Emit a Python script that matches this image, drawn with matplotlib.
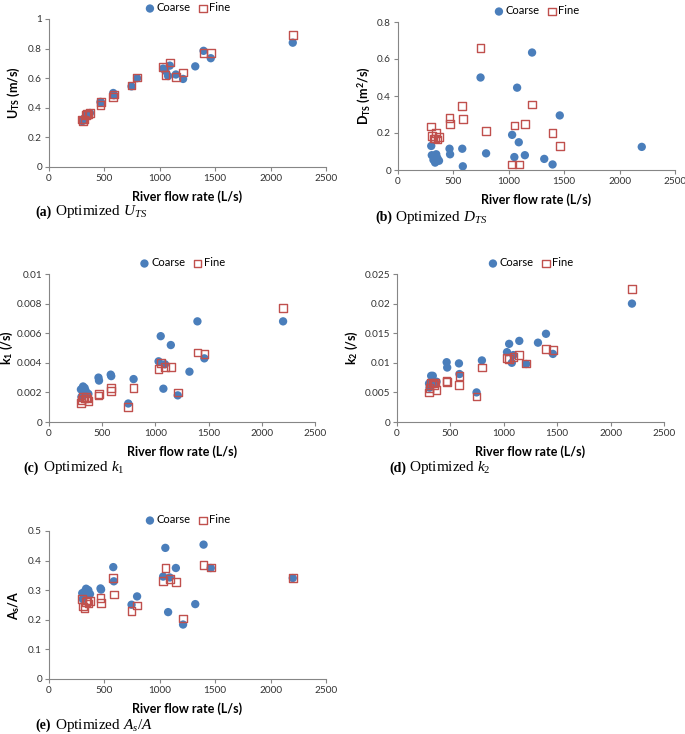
import numpy as np
import matplotlib
matplotlib.use('Agg')
import matplotlib.pyplot as plt

nan = np.nan

# river flow rate (L/s), shared by every panel
flow = [300, 305, 320, 335, 345, 355, 370, 465, 470, 580, 585, 745, 795,
        1030, 1050, 1075, 1090, 1145, 1210, 1320, 1395, 1460, 2200]

uts_coarse = [0.31, 0.315, 0.33, 0.35, 0.35, 0.36, 0.365, 0.44, 0.435, 0.50, 0.485, 0.545, 0.60,
              0.665, 0.65, 0.615, 0.685, 0.625, 0.595, 0.68, 0.785, 0.735, 0.84]
uts_fine = [0.32, 0.31, 0.32, 0.35, 0.36, 0.355, 0.365, 0.42, 0.44, 0.475, 0.49, 0.55, 0.605,
            0.675, 0.62, nan, 0.705, 0.608, 0.638, nan, 0.77, 0.77, 0.89]

dts_coarse = [0.13, 0.08, 0.055, 0.04, 0.085, 0.065, 0.05, 0.115, 0.085, 0.115, 0.02, 0.50, 0.09,
              0.19, 0.07, 0.445, 0.15, 0.08, 0.635, 0.06, 0.03, 0.295, 0.125]
dts_fine = [0.235, 0.185, 0.17, 0.17, 0.20, 0.165, 0.18, 0.28, 0.25, 0.345, 0.275, 0.66, 0.21,
            0.03, 0.24, nan, 0.03, 0.25, 0.355, nan, 0.20, 0.13, nan]

k1_coarse = [0.0022, 0.0017, 0.0024, 0.0023, 0.0021, 0.0019, 0.0019, 0.0030, 0.0028, 0.0032, 0.0031,
             0.00125, 0.0029, 0.0041, 0.0058, 0.00225, 0.0039, 0.0052, 0.0018, 0.0034, 0.0068, 0.0043, 0.0068]
k1_fine = [0.0013, 0.0015, 0.0017, 0.0016, 0.0017, 0.0016, 0.0014, 0.0018, 0.0019, 0.0023, 0.0021,
           0.0010, 0.0023, 0.0036, 0.0040, nan, 0.0037, 0.0037, 0.0020, nan, 0.0047, 0.0046, 0.0077]

k2_coarse = [0.0065, 0.0058, 0.0078, 0.0078, 0.0066, 0.0067, 0.0068, 0.0101, 0.0092, 0.0099, 0.0081,
             0.0050, 0.0104, 0.0118, 0.0132, 0.0100, 0.0113, 0.0137, 0.0098, 0.0134, 0.0149, 0.0115, 0.0200]
k2_fine = [0.0050, 0.0057, 0.0066, 0.0065, 0.0062, 0.0067, 0.0054, 0.0069, 0.0068, 0.0063, 0.0078,
           0.0043, 0.0092, 0.0108, 0.0106, nan, 0.0110, 0.0113, 0.0099, nan, 0.0123, 0.0122, 0.0225]

as_coarse = [0.29, 0.27, 0.295, 0.305, 0.29, 0.30, 0.287, 0.306, 0.302, 0.378, 0.33, 0.251, 0.279,
             0.346, 0.443, 0.226, 0.343, 0.375, 0.184, 0.253, 0.454, 0.375, 0.341]
as_fine = [0.27, 0.245, 0.24, 0.26, 0.265, 0.255, 0.263, 0.273, 0.256, 0.341, 0.285, 0.229, 0.248,
           0.332, 0.375, nan, 0.338, 0.328, 0.204, nan, 0.386, 0.377, 0.341]

plt.rcParams['font.family'] = ['Lato', 'DejaVu Sans']
plt.rcParams['mathtext.fontset'] = 'custom'
plt.rcParams['mathtext.rm'] = 'Liberation Serif'
plt.rcParams['mathtext.it'] = 'Liberation Serif:italic'
plt.rcParams['mathtext.bf'] = 'Lato:bold'

BLUE = '#4a7ebb'
RED = '#c0504d'
GREY = '#868686'

W, H = 685, 734
fig = plt.figure(figsize=(W / 100, H / 100), dpi=100)

# panel boxes in pixels: left, right, top, bottom; caption x, y in pixels
panels = [
    dict(box=(49, 326, 19, 167), yc=uts_coarse, yf=uts_fine, ymax=1.0, ystep=0.2, lpad=4,
         ylabel=r'U$_\mathbf{TS}$ (m/s)', tag='(a)', cap=r'Optimized $U_{TS}$', cap_xy=(35, 212)),
    dict(box=(398, 675, 22, 170), yc=dts_coarse, yf=dts_fine, ymax=0.8, ystep=0.2, lpad=4,
         ylabel=r'D$_\mathbf{TS}$ (m$^\mathbf{2}$/s)', tag='(b)', cap=r'Optimized $D_{TS}$', cap_xy=(375, 217)),
    dict(box=(49, 315, 274, 422), yc=k1_coarse, yf=k1_fine, ymax=0.01, ystep=0.002, lpad=1,
         ylabel=r'k$_\mathbf{1}$ (/s)', tag='(c)', cap=r'Optimized $k_1$', cap_xy=(23, 468)),
    dict(box=(397, 664, 274, 422), yc=k2_coarse, yf=k2_fine, ymax=0.025, ystep=0.005, lpad=3,
         ylabel=r'k$_\mathbf{2}$ (/s)', tag='(d)', cap=r'Optimized $k_2$', cap_xy=(389, 468)),
    dict(box=(49, 326, 531, 679), yc=as_coarse, yf=as_fine, ymax=0.5, ystep=0.1, lpad=4,
         ylabel=r'A$_\mathbf{s}$/A', tag='(e)', cap=r'Optimized $A_s/A$', cap_xy=(35, 725)),
]

for p in panels:
    l, r, t, b = p['box']
    ax = fig.add_axes([l / W, 1 - b / H, (r - l) / W, (b - t) / H])
    ax.scatter(flow, p['yc'], s=36, color=BLUE, edgecolors='none', label='Coarse', zorder=2)
    ax.scatter(flow, p['yf'], s=30, marker='s', facecolors='none', edgecolors=RED,
               linewidths=1.0, label='Fine', zorder=3)
    ax.set_xlim(0, 2500)
    ax.set_ylim(0, p['ymax'])
    ax.set_xticks(np.arange(0, 2501, 500))
    yt = np.arange(0, p['ymax'] + p['ystep'] / 2, p['ystep'])
    ax.set_yticks(yt)
    ax.set_yticklabels([('{:.3f}'.format(v).rstrip('0').rstrip('.') if v else '0') for v in yt])
    for s in ['top', 'right']:
        ax.spines[s].set_visible(False)
    for s in ['left', 'bottom']:
        ax.spines[s].set_color(GREY)
        ax.spines[s].set_linewidth(0.8)
    ax.tick_params(colors=GREY, labelcolor='#333333', labelsize=7.2, length=3, width=0.8, pad=2)
    ax.set_xlabel('River flow rate (L/s)', fontsize=9, fontweight='bold', labelpad=5)
    ax.set_ylabel(p['ylabel'], fontsize=9, fontweight='bold', labelpad=p['lpad'])
    ax.legend(loc='lower center', bbox_to_anchor=(0.5, 1.0), ncol=2, frameon=False,
              fontsize=8, handletextpad=0.1, columnspacing=0.6, borderaxespad=0.1,
              handlelength=1.0)
    cx, cy = p['cap_xy']
    fig.text(cx / W, 1 - cy / H, p['tag'], fontsize=10, fontweight='bold',
             family='Liberation Serif', va='center')
    fig.text((cx + 20) / W, 1 - cy / H, p['cap'], fontsize=11,
             family='Liberation Serif', va='center')

fig.savefig('out.png', dpi=100)
